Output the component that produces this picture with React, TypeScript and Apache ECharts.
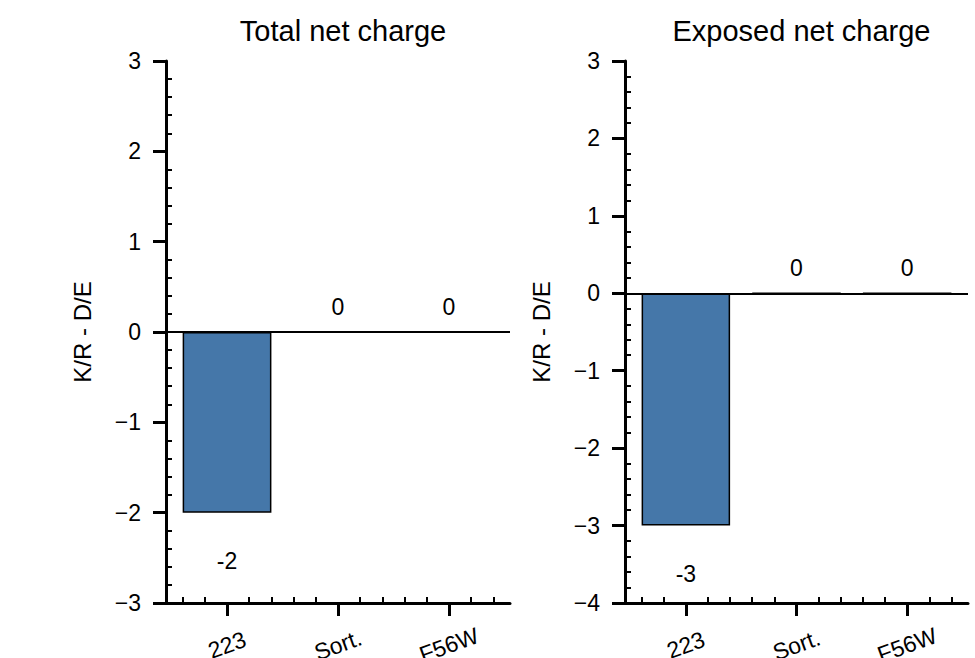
import React, { useEffect, useRef } from "react";
import * as echarts from "echarts";

const categories = ["223", "Sort.", "F56W"];
const totalCharge = [-2, 0, 0];
const exposedCharge = [-3, 0, 0];
const panelTitles = ["Total net charge", "Exposed net charge"];
const yRanges = [
  [-3, 3],
  [-4, 3],
];
const yLabel = "K/R - D/E";

const FONT = "'Liberation Sans', Arial, sans-serif";
const BAR_COLOR = "#4577a9";

// minor tick positions: every 0.2 between the major ticks
const minorTicks = (lo: number, hi: number) => {
  const out: number[] = [];
  for (let k = Math.round(lo * 5); k <= Math.round(hi * 5); k++) {
    if (k % 5 !== 0) out.push(k / 5);
  }
  return out;
};

const fmtMinus = (v: number) => (v < 0 ? "\u2212" + Math.abs(v) : String(v));

const App: React.FC = () => {
  const chartRef = useRef<HTMLDivElement>(null);

  useEffect(() => {
    if (!chartRef.current) return;
    const chart = echarts.init(chartRef.current, undefined, { renderer: "svg" });

    const xMin = -0.55;
    const xMax = 2.55;
    const grids = [
      { left: 166, top: 61, width: 344, height: 542, outerBoundsMode: "none", containLabel: false },
      { left: 625, top: 61, width: 343, height: 542, outerBoundsMode: "none", containLabel: false },
    ];

    const xAxis: any[] = [];
    const yAxis: any[] = [];
    grids.forEach((_, g) => {
      xAxis.push({
        type: "value",
        gridIndex: g,
        min: xMin,
        max: xMax,
        position: "bottom",
        axisLine: { show: true, onZero: false, lineStyle: { color: "#000", width: 3 } },
        axisTick: {
          show: true,
          customValues: [0, 1, 2],
          length: 13,
          lineStyle: { color: "#000", width: 3 },
        },
        axisLabel: {
          customValues: [0, 1, 2],
          formatter: (v: number) => categories[Math.round(v)] ?? "",
          rotate: 20,
          align: "center",
          verticalAlign: "middle",
          margin: 42,
          fontSize: 23,
          color: "#000",
          fontFamily: FONT,
        },
        splitLine: { show: false },
      });
      xAxis.push({
        type: "value",
        gridIndex: g,
        min: xMin,
        max: xMax,
        position: "bottom",
        axisLine: { show: false, onZero: false },
        axisTick: {
          show: true,
          inside: true,
          customValues: minorTicks(xMin, xMax),
          length: 6,
          lineStyle: { color: "#000", width: 2 },
        },
        axisLabel: { show: false },
        splitLine: { show: false },
      });
      const [lo, hi] = yRanges[g];
      yAxis.push({
        type: "value",
        gridIndex: g,
        min: lo,
        max: hi,
        interval: 1,
        position: "left",
        name: yLabel,
        nameLocation: "middle",
        nameGap: 72,
        nameTextStyle: { fontSize: 24, color: "#000", fontFamily: FONT },
        axisLine: { show: true, onZero: false, lineStyle: { color: "#000", width: 3 } },
        axisTick: { show: true, length: 13, lineStyle: { color: "#000", width: 3 } },
        axisLabel: {
          formatter: fmtMinus,
          margin: 25,
          fontSize: 23,
          color: "#000",
          fontFamily: FONT,
        },
        splitLine: { show: false },
      });
      yAxis.push({
        type: "value",
        gridIndex: g,
        min: lo,
        max: hi,
        position: "left",
        offset: 0,
        axisLine: { show: false, onZero: false },
        axisTick: {
          show: true,
          inside: true,
          customValues: minorTicks(lo, hi),
          length: 6,
          lineStyle: { color: "#000", width: 2 },
        },
        axisLabel: { show: false },
        splitLine: { show: false },
      });
    });

    const makeSeries = (values: number[], g: number) => ({
      type: "bar",
      xAxisIndex: g * 2,
      yAxisIndex: g * 2,
      barWidth: "80%",
      data: values.map((v, i) => ({
        value: [i, v],
        label:
          v < 0
            ? { position: "bottom", distance: 37 }
            : { position: "top", distance: 13 },
      })),
      itemStyle: { color: BAR_COLOR, borderColor: "#000", borderWidth: 1.5 },
      label: {
        show: true,
        formatter: (p: any) => String(p.value[1]),
        fontSize: 23,
        color: "#000",
        fontFamily: FONT,
      },
      markLine: {
        silent: true,
        symbol: "none",
        label: { show: false },
        lineStyle: { color: "#000", width: 2, type: "solid" },
        data: [{ yAxis: 0 }],
      },
    });

    const option: echarts.EChartsOption = {
      animation: false,
      backgroundColor: "#fff",
      textStyle: { fontFamily: FONT },
      title: panelTitles.map((t, g) => ({
        text: t,
        left: grids[g].left + grids[g].width / 2,
        textAlign: "center",
        top: 11,
        textStyle: { fontSize: 29, fontWeight: "normal", color: "#000", fontFamily: FONT },
      })),
      grid: grids as any,
      xAxis,
      yAxis,
      series: [makeSeries(totalCharge, 0), makeSeries(exposedCharge, 1)] as any,
    };

    chart.setOption(option);

    return () => {
      chart.dispose();
    };
  }, []);

  return (
    <div
      ref={chartRef}
      style={{ position: "absolute", left: 0, top: 0, width: 975, height: 658 }}
    />
  );
};

export default App;
